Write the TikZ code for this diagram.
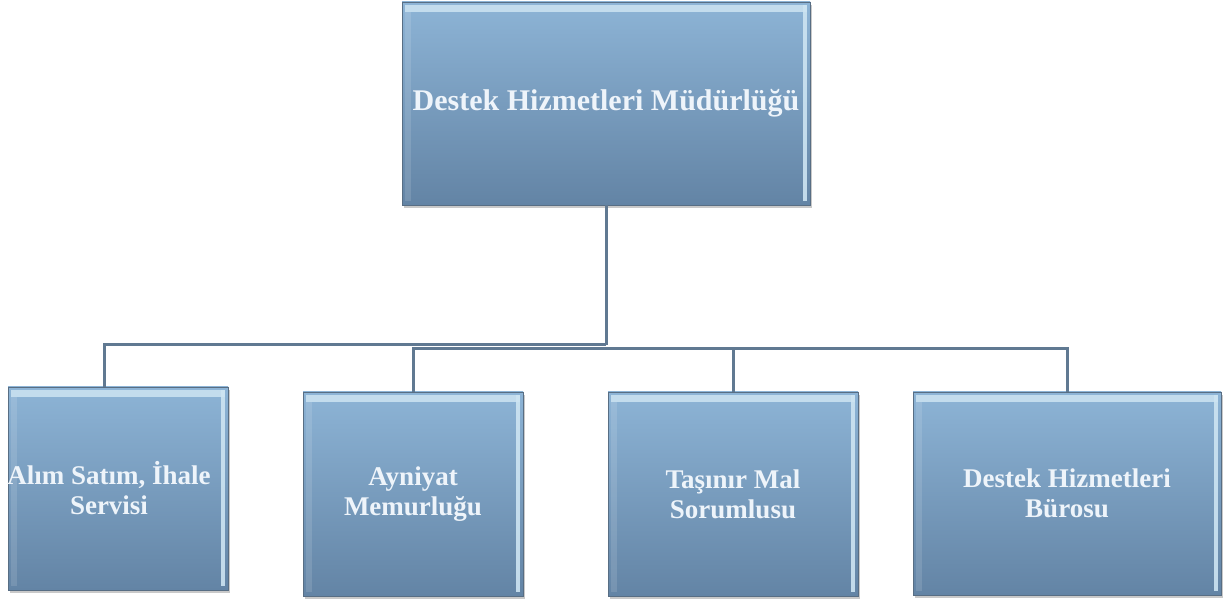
\documentclass[tikz,border=0pt]{standalone}
\usepackage{fontspec}
\setmainfont{Liberation Serif}
\usetikzlibrary{shadows,calc}
\definecolor{boxtop}{RGB}{141,180,214}
\definecolor{boxbot}{RGB}{99,132,165}
\definecolor{boxedge}{RGB}{88,110,132}
\definecolor{linecol}{RGB}{96,121,146}
\definecolor{txtcol}{RGB}{238,244,250}
\definecolor{hilite}{RGB}{205,228,242}
\tikzset{
  orgbox/.style={rectangle, inner sep=0pt, outer sep=0pt,
    top color=boxtop, bottom color=boxbot,
    draw=boxedge, line width=0.8pt,
    drop shadow={shadow xshift=2pt, shadow yshift=-3pt, opacity=0.35, fill=black!60},
    text=txtcol, font=\bfseries, align=center,
    path picture={
      \fill[hilite, opacity=0.85]
        ($(path picture bounding box.north west)+(3pt,-3pt)$) rectangle
        ($(path picture bounding box.north east)+(-3pt,-10pt)$);
      \fill[hilite, opacity=0.9]
        ($(path picture bounding box.north east)+(-7pt,-3pt)$) rectangle
        ($(path picture bounding box.south east)+(-3pt,4pt)$);
      \fill[white, opacity=0.12]
        ($(path picture bounding box.north west)+(3pt,-10pt)$) rectangle
        ($(path picture bounding box.south west)+(9pt,4pt)$);
    }},
  bigtext/.style={font=\bfseries\fontsize{30}{32}\selectfont},
  smalltext/.style={text=txtcol, align=center, font=\bfseries\fontsize{27}{30}\selectfont},
  conn/.style={draw=linecol, line width=3pt}
}
\begin{document}
\begin{tikzpicture}[x=1pt,y=-1pt]
\useasboundingbox[fill=white] (0,0) rectangle (1227,601);
\coordinate (j) at (606,345);
\coordinate (k) at (606,349);
\node[orgbox, bigtext, minimum width=408pt, minimum height=203pt] (top) at (606,103.5) {Destek Hizmetleri Müdürlüğü};
\node[orgbox, minimum width=220pt, minimum height=203pt] (b1) at (118,488.5) {};
\node[smalltext] (b1t) at ([xshift=-9pt]b1.center) {Alım Satım, İhale\\Servisi};
\node[orgbox, smalltext, minimum width=220pt, minimum height=204pt] (b2) at (413,494) {Ayniyat\\Memurluğu};
\node[orgbox, smalltext, minimum width=250pt, minimum height=204pt] (b3) at (733,494) {Taşınır Mal\\Sorumlusu};
\node[orgbox, smalltext, minimum width=308pt, minimum height=203pt] (b4) at (1067,493.5) {Destek Hizmetleri\\Bürosu};
\draw[conn] (top.south) -- (j);
\draw[conn] (j) -| ([xshift=-14pt]b1.north);
\draw[conn] (b2.north) |- (k) -| (b4.north);
\draw[conn] (b3.north) -- (b3.north |- k);
\end{tikzpicture}
\end{document}
